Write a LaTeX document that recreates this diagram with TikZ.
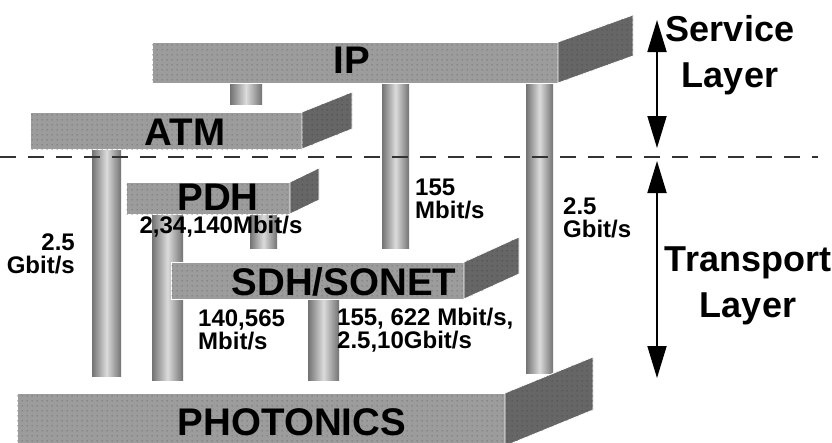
\documentclass[tikz,border=0pt]{standalone}
\usepackage{fontspec}
\setmainfont{Liberation Sans}
\usetikzlibrary{arrows.meta,patterns.meta}
\tikzdeclarepattern{
  name=stip,
  type=uncolored,
  bounding box={(0pt,0pt) and (5pt,5pt)},
  tile size={(5pt,5pt)},
  code={\fill (2.5pt,2.5pt) circle (0.75pt);}
}
\begin{document}
\begin{tikzpicture}[x=1pt,y=-1pt,
  front/.style={fill=black!39, draw=white, line width=0.8pt},
  side/.style={fill=black!60, draw=white, line width=0.8pt},
  dotsfront/.style={pattern=stip, pattern color=black!58},
  dotsside/.style={pattern=stip, pattern color=black!72},
  pillar/.style={left color=black!55, right color=black!55, middle color=black!14},
  big/.style={font=\bfseries\fontsize{38.5}{38.5}\selectfont, inner sep=0pt, anchor=base},
  small/.style={font=\bfseries\fontsize{24}{23.5}\selectfont, inner sep=0pt},
  layerlbl/.style={font=\bfseries\fontsize{36}{46}\selectfont, align=center, inner sep=0pt},
  sep/.style={line width=2pt, black!80, dash pattern=on 16pt off 12pt},
  dbl/.style={line width=1.8pt, {Triangle[length=32pt,width=19pt]}-{Triangle[length=32pt,width=19pt]}}
]
\useasboundingbox (0,0) rectangle (832,442);
\clip (0,0) rectangle (832,442);
\fill[white] (0,0) rectangle (832,442);

% pillars
\shade[pillar] (230,83) rectangle (262,104);
\shade[pillar] (382,83) rectangle (409,248);
\shade[pillar] (526,83) rectangle (553,373);
\shade[pillar] (92,149) rectangle (121,376);
\shade[pillar] (152,214) rectangle (183,380);
\shade[pillar] (250,214) rectangle (277,248);
\shade[pillar] (308,299) rectangle (339,380);

% IP slab
\filldraw[front] (152,42) rectangle (558,83);
\fill[dotsfront] (152,42) rectangle (558,83);
\filldraw[side] (558,42) -- (633,15) -- (633,56) -- (558,83) -- cycle;
\fill[dotsside] (558,42) -- (633,15) -- (633,56) -- (558,83) -- cycle;
% ATM slab
\filldraw[front] (30,112) rectangle (302,149);
\fill[dotsfront] (30,112) rectangle (302,149);
\filldraw[side] (302,112) -- (352,92) -- (352,129) -- (302,149) -- cycle;
\fill[dotsside] (302,112) -- (352,92) -- (352,129) -- (302,149) -- cycle;
% PDH slab
\filldraw[front] (126,182) rectangle (290,214);
\fill[dotsfront] (126,182) rectangle (290,214);
\filldraw[side] (290,182) -- (319,168) -- (319,200) -- (290,214) -- cycle;
\fill[dotsside] (290,182) -- (319,168) -- (319,200) -- (290,214) -- cycle;
% SDH slab
\filldraw[front] (171,262) rectangle (464,299);
\fill[dotsfront] (171,262) rectangle (464,299);
\filldraw[side] (464,262) -- (519,237) -- (519,274) -- (464,299) -- cycle;
\fill[dotsside] (464,262) -- (519,237) -- (519,274) -- (464,299) -- cycle;
% PHOTONICS slab
\filldraw[front] (17,393) rectangle (505,460);
\fill[dotsfront] (17,393) rectangle (505,460);
\filldraw[side] (505,393) -- (593,357) -- (593,410) -- (505,446) -- cycle;
\fill[dotsside] (505,393) -- (593,357) -- (593,410) -- (505,446) -- cycle;

% separator
\coordinate (dl) at (0,157);
\coordinate (dr) at (818,157);
\draw[sep] (dl) -- (dr);

% layer arrows
\coordinate (s1) at (657,20);
\coordinate (s2) at (657,148);
\coordinate (t1) at (657,161);
\coordinate (t2) at (657,378);
\draw[dbl] (s1) -- (s2);
\draw[dbl] (t1) -- (t2);

% slab labels
\node[big] (ip) at (352,73) {IP};
\node[big] (atm) at (185,145) {ATM};
\node[big] (pdh) at (218,210) {PDH};
\node[big] (sdh) at (344,295) {SDH/SONET};
\node[big] (ph) at (292,435) {PHOTONICS};

% rate labels
\node[small, anchor=east, align=right] (r1) at (75,254) {2.5\\Gbit/s};
\node[small, anchor=west, align=left] (r2) at (415,199) {155\\Mbit/s};
\node[small, anchor=west, align=left] (r3) at (563,218) {2.5\\Gbit/s};
\node[small] (r4) at (221,227) {2,34,140Mbit/s};
\node[small, anchor=west, align=left] (r5) at (198,330) {140,565\\Mbit/s};
\node[small, anchor=west, align=left] (r6) at (337,330) {155, 622 Mbit/s,\\2.5,10Gbit/s};

% layer labels
\node[layerlbl] (svc) at (730,55) {Service\\Layer};
\node[layerlbl] (trn) at (748,286) {Transport\\Layer};
\end{tikzpicture}
\end{document}
